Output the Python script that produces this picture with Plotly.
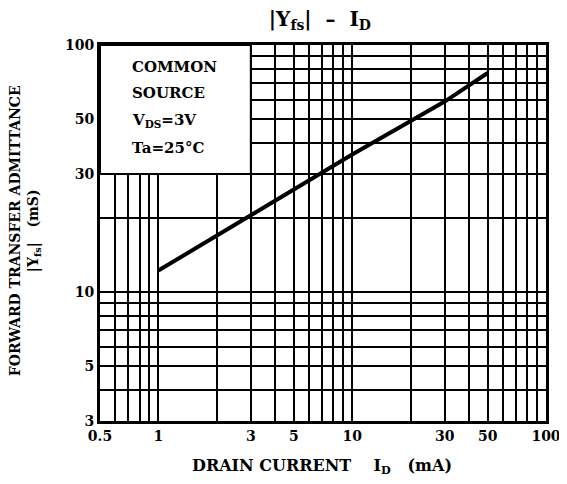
import math
import plotly.graph_objects as go

# Data
drain_current_mA = [1, 3, 10, 30, 50]
yfs_mS = [12.2, 20.5, 36, 59, 77]

x_tick_vals = [0.5, 1, 3, 5, 10, 30, 50, 100]
x_tick_text = ["0.5", "1", "3", "5", "10", "30", "50", "100"]
x_minor_vals = [0.6, 0.7, 0.8, 0.9, 2, 4, 6, 7, 8, 9, 20, 40, 60, 70, 80, 90]
y_tick_vals = [3, 5, 10, 30, 50, 100]
y_tick_text = ["3", "5", "10", "30", "50", "100"]
y_minor_vals = [4, 6, 7, 8, 9, 20, 40, 60, 70, 80, 90]

legend_lines = ["COMMON", "SOURCE", "V<sub>DS</sub>=3V", "Ta=25°C"]

x_range = [math.log10(0.5), 2]
y_range = [math.log10(3), 2]
box_x_max = 3
box_y_min = 30

FONT = "DejaVu Serif"

fig = go.Figure()
fig.add_trace(go.Scatter(
    x=drain_current_mA, y=yfs_mS, mode="lines",
    line=dict(color="black", width=4), showlegend=False,
))

grid = dict(showgrid=True, gridcolor="black", gridwidth=2)
fig.update_xaxes(
    type="log", range=x_range, tickmode="array", tickvals=x_tick_vals, ticktext=x_tick_text,
    showline=True, mirror=True, linecolor="black", linewidth=3, zeroline=False, automargin=False,
    tickfont=dict(family=FONT, size=14, color="black", weight="bold"),
    minor=dict(tickmode="array", tickvals=x_minor_vals, showgrid=True, gridcolor="black", gridwidth=2, ticks=""),
    **grid,
)
fig.update_yaxes(
    type="log", range=y_range, tickmode="array", tickvals=y_tick_vals, ticktext=y_tick_text,
    showline=True, mirror=True, linecolor="black", linewidth=3, zeroline=False, automargin=False,
    tickfont=dict(family=FONT, size=14, color="black", weight="bold"),
    minor=dict(tickmode="array", tickvals=y_minor_vals, showgrid=True, gridcolor="black", gridwidth=2, ticks=""),
    **grid,
)

# axis titles
fig.add_annotation(text="DRAIN CURRENT    I<sub>D</sub>   (mA)", xref="paper", yref="paper",
                   x=0.498, y=-0.122, xanchor="center", yanchor="middle", showarrow=False,
                   font=dict(family=FONT, size=16, color="black", weight="bold"))
fig.add_annotation(text="FORWARD TRANSFER ADMITTANCE<br>|Y<sub>fs</sub>|   (mS)", xref="paper", yref="paper",
                   x=-0.168, y=0.505, xanchor="center", yanchor="middle", showarrow=False, textangle=-90,
                   font=dict(family=FONT, size=14, color="black", weight="bold"))

# legend box (white, covers the grid in the upper-left)
bx1 = (math.log10(box_x_max) - x_range[0]) / (x_range[1] - x_range[0])
by0 = (math.log10(box_y_min) - y_range[0]) / (y_range[1] - y_range[0])
fig.add_shape(type="rect", xref="x domain", yref="y domain", x0=0, x1=bx1, y0=by0, y1=1,
              fillcolor="white", line=dict(color="black", width=2), layer="above")

ys = [0.941, 0.872, 0.800, 0.726]
for txt, yy in zip(legend_lines, ys):
    fig.add_annotation(text=txt, xref="x domain", yref="y domain", x=0.068, y=yy,
                       xanchor="left", yanchor="middle", showarrow=False,
                       font=dict(family=FONT, size=15, color="black", weight="bold"))

# page body has an 8px margin, so the figure is sized to fit the 567x484 window
fig.update_layout(
    width=559, height=476,
    margin=dict(l=92, r=21, t=37, b=63),
    paper_bgcolor="white", plot_bgcolor="white",
    title=dict(text="|Y<sub>fs</sub>|  –  I<sub>D</sub>", xref="paper", x=0.493, xanchor="center",
               y=0.977, yanchor="middle",
               font=dict(family=FONT, size=20, color="black", weight="bold")),
)

fig.write_html("out.html")
